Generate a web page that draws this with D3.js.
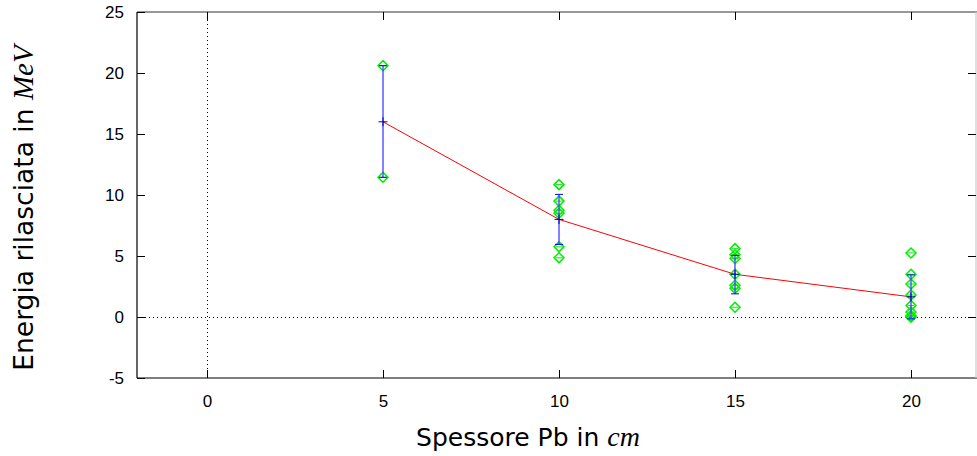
<!DOCTYPE html>
<html><head><meta charset="utf-8">
<script src="https://cdn.jsdelivr.net/npm/d3@7"></script>
<style>body{margin:0;background:#fff}svg{display:block}</style>
</head><body>
<svg id="c" width="977" height="456"></svg>
<script>
// Data
const thickness = [5, 10, 15, 20];
const meanEnergy = [16.0, 8.0, 3.5, 1.65];
const errLow = [11.45, 5.95, 1.9, -0.15];
const errHigh = [20.6, 10.05, 5.05, 3.45];
const samples5 = [20.6, 11.45];
const samples10 = [10.85, 9.5, 8.75, 8.5, 5.75, 4.85];
const samples15 = [5.6, 5.1, 4.8, 3.5, 2.6, 2.35, 0.8];
const samples20 = [5.25, 3.5, 2.7, 1.8, 0.95, 0.4, 0.1, 0.0, 0.0];
const xTicks = [0, 5, 10, 15, 20];
const yTicks = [-5, 0, 5, 10, 15, 20, 25];

const svg = d3.select("#c");
const L = 137, T = 12, B = 378, Rb = 976;
const x = d3.scaleLinear().domain([-2, 22]).range([136.6, 981.4]);
const y = d3.scaleLinear().domain([-5, 25]).range([B, T]);

// zero lines
svg.append("line").attr("x1", L).attr("x2", Rb).attr("y1", Math.round(y(0))+0.5).attr("y2", Math.round(y(0))+0.5)
  .attr("stroke", "#000").attr("stroke-width", 1).attr("stroke-dasharray", "1,3");
svg.append("line").attr("y1", T).attr("y2", B).attr("x1", Math.round(x(0))+0.5).attr("x2", Math.round(x(0))+0.5)
  .attr("stroke", "#000").attr("stroke-width", 1).attr("stroke-dasharray", "1,3");

// border
const g = svg.append("g").attr("stroke", "#000").attr("stroke-width", 1.2).attr("fill", "none");
g.append("line").attr("x1", L).attr("x2", 977).attr("y1", T).attr("y2", T).attr("stroke", "#333");
g.append("line").attr("x1", L).attr("x2", 977).attr("y1", B).attr("y2", B);
g.append("line").attr("x1", L).attr("x2", L).attr("y1", T).attr("y2", B);
g.append("line").attr("x1", Rb).attr("x2", Rb).attr("y1", T).attr("y2", B).attr("stroke", "#ccc");

// axes ticks via d3 axes
const fmt = d => String(d);
const yAxisL = d3.axisLeft(y).tickValues(yTicks).tickSize(-8).tickPadding(13).tickFormat(fmt);
const yAxisR = d3.axisRight(y).tickValues(yTicks.filter(v => v > -5 && v < 25)).tickSize(-8).tickFormat("");
const xAxisB = d3.axisBottom(x).tickValues(xTicks).tickSize(-8).tickPadding(17).tickFormat(fmt);
const xAxisT = d3.axisTop(x).tickValues(xTicks).tickSize(-8).tickFormat("");
function style(sel) {
  sel.select(".domain").remove();
  sel.selectAll("line").attr("stroke", "#000");
  sel.selectAll("text").attr("font-family", "'Liberation Sans', Arial, sans-serif").attr("font-size", 17).attr("fill", "#000");
}
svg.append("g").attr("transform", `translate(${L},0)`).call(yAxisL).call(style);
svg.append("g").attr("transform", `translate(${Rb},0)`).call(yAxisR).call(style);
svg.append("g").attr("transform", `translate(0,${B})`).call(xAxisB).call(style);
svg.append("g").attr("transform", `translate(0,${T})`).call(xAxisT).call(style);

// mean line
svg.append("path").datum(thickness.map((t, i) => [t, meanEnergy[i]]))
  .attr("d", d3.line().x(d => x(d[0])).y(d => y(d[1])))
  .attr("fill", "none").attr("stroke", "#ff0000").attr("stroke-width", 1);

// samples (diamonds)
const samples = [samples5, samples10, samples15, samples20];
const pts = [];
samples.forEach((arr, i) => arr.forEach(v => pts.push([thickness[i], v])));
const dg = svg.append("g").attr("fill", "none").attr("stroke", "#00ee00").attr("stroke-width", 1.5);
pts.forEach(p => {
  const cx = x(p[0]), cy = y(p[1]), r = 5;
  dg.append("path").attr("d", `M${cx - r},${cy}L${cx},${cy - r}L${cx + r},${cy}L${cx},${cy + r}Z`);
  dg.append("line").attr("x1", cx - r + 1.5).attr("x2", cx + r - 1.5).attr("y1", cy).attr("y2", cy).attr("stroke-width", 1);
});

// error bars
const eg = svg.append("g").attr("stroke", "#0000ff").attr("stroke-width", 1);
thickness.forEach((t, i) => {
  const cx = x(t);
  eg.append("line").attr("x1", cx).attr("x2", cx).attr("y1", y(errLow[i])).attr("y2", y(errHigh[i])).attr("stroke", "#4040ff").attr("stroke-width", 1.3);
  [errLow[i], errHigh[i]].forEach(v => {
    eg.append("line").attr("x1", cx - 4).attr("x2", cx + 4).attr("y1", y(v)).attr("y2", y(v));
  });
  const cy = y(meanEnergy[i]);
  eg.append("line").attr("x1", cx - 4.5).attr("x2", cx + 4.5).attr("y1", cy).attr("y2", cy).attr("stroke", "#0000aa");
  eg.append("line").attr("x1", cx).attr("x2", cx).attr("y1", cy - 4.5).attr("y2", cy + 4.5).attr("stroke", "#0000aa");
});

// titles
const sans = "'DejaVu Sans', 'Noto Sans', sans-serif";
const serif = "'Liberation Serif', 'DejaVu Serif', serif";
const xt = svg.append("text").attr("x", 528).attr("y", 446).attr("text-anchor", "middle")
  .attr("font-family", sans).attr("font-size", 25).attr("fill", "#000");
xt.append("tspan").text("Spessore Pb in ");
xt.append("tspan").attr("font-family", serif).attr("font-style", "italic").attr("font-size", 28).text("cm");

const yt = svg.append("text").attr("transform", "translate(33,208) rotate(-90)").attr("text-anchor", "middle")
  .attr("font-family", sans).attr("font-size", 26.5).attr("fill", "#000");
yt.append("tspan").text("Energia rilasciata in ");
yt.append("tspan").attr("font-family", serif).attr("font-style", "italic").attr("font-size", 29).text("MeV");
</script>
</body></html>
